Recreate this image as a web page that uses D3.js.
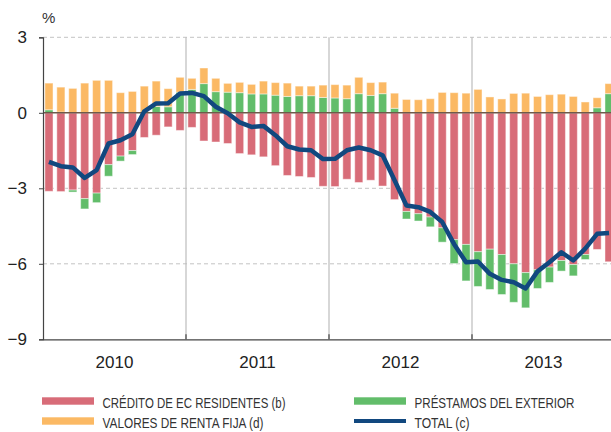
<!DOCTYPE html>
<html><head><meta charset="utf-8">
<script src="https://cdn.jsdelivr.net/npm/d3@7"></script>
<style>body{margin:0;background:#fff}svg{display:block}</style>
</head><body><svg id="c" width="611" height="432"></svg>
<script>
const years = ["2010","2011","2012","2013"];
const months = d3.range(48).map(i => years[Math.floor(i/12)] + "-" + String(i%12+1).padStart(2,"0"));
const credito = [-3.12,-3.13,-3.07,-3.41,-3.19,-2.06,-1.72,-1.50,-0.98,-0.89,-0.56,-0.70,
  -0.58,-1.12,-1.16,-1.22,-1.62,-1.67,-1.75,-2.10,-2.49,-2.53,-2.57,-2.92,
  -2.93,-2.64,-2.77,-2.68,-2.91,-3.45,-3.92,-4.01,-4.14,-4.57,-5.04,-5.23,
  -5.52,-5.42,-5.63,-6.00,-6.35,-6.24,-6.13,-5.87,-6.03,-5.63,-5.43,-5.92];
const prestamos = [0.12,0.03,-0.08,-0.41,-0.38,-0.46,-0.20,-0.16,0.02,0.25,0.24,0.82,
  0.93,1.16,0.84,0.82,0.80,0.75,0.75,0.70,0.65,0.68,0.68,0.61,
  0.59,0.56,0.76,0.69,0.76,0.18,-0.30,-0.29,-0.39,-0.57,-0.95,-1.45,
  -1.38,-1.60,-1.59,-1.53,-1.40,-0.74,-0.61,-0.42,-0.45,-0.20,0.20,0.76];
const valores = [1.06,0.99,0.97,1.18,1.29,1.29,0.80,0.85,1.04,1.01,0.72,0.59,
  0.44,0.62,0.53,0.35,0.41,0.38,0.51,0.50,0.53,0.38,0.38,0.49,
  0.53,0.54,0.65,0.51,0.46,0.60,0.53,0.52,0.56,0.81,0.80,0.78,
  0.93,0.63,0.55,0.77,0.78,0.65,0.72,0.74,0.65,0.43,0.40,0.40];
const total = [-1.95,-2.12,-2.17,-2.59,-2.28,-1.22,-1.09,-0.85,0.06,0.37,0.38,0.77,
  0.79,0.66,0.24,-0.02,-0.38,-0.56,-0.52,-0.89,-1.33,-1.46,-1.49,-1.84,
  -1.83,-1.49,-1.38,-1.49,-1.69,-2.68,-3.68,-3.75,-3.94,-4.34,-5.22,-5.94,
  -5.91,-6.40,-6.64,-6.73,-6.98,-6.30,-5.94,-5.54,-5.87,-5.40,-4.81,-4.78];
const yTicks = [3,0,-3,-6,-9];
const seriesNames = ["CRÉDITO DE EC RESIDENTES (b)","PRÉSTAMOS DEL EXTERIOR","VALORES DE RENTA FIJA (d)","TOTAL (c)"];
const colors = {red:"#d86c78", green:"#62bd6a", orange:"#fbb964", blue:"#11487f"};

const svg = d3.select("#c");
const L = 43, R = 615, T = 37.3, B = 339.3;
const x = d3.scaleBand().domain(months).range([L, R]).paddingInner(0.32).paddingOuter(0.16);
const y = d3.scaleLinear().domain([-9, 3]).range([B, T]);
const step = x.step();

// horizontal dashed grid
svg.append("g").selectAll("line").data([3,-3,-6]).join("line")
  .attr("x1", L).attr("x2", 611).attr("y1", d=>y(d)).attr("y2", d=>y(d))
  .attr("stroke","#c4c4c4").attr("stroke-width",1).attr("stroke-dasharray","4,3");
// year separators
const yearBounds = [12,24,36].map(i => x(months[i]) - x.step()*x.paddingInner()/2);
svg.append("g").selectAll("line").data(yearBounds).join("line")
  .attr("x1", d=>d).attr("x2", d=>d).attr("y1", T).attr("y2", B)
  .attr("stroke","#bdbdbd").attr("stroke-width",1.2);

// bars
const bars = [];
months.forEach((m,i) => {
  let pos = 0, neg = 0;
  const c = credito[i], p = prestamos[i], v = valores[i];
  bars.push({m, y0: 0, y1: c, col: colors.red}); neg = c;
  if (p >= 0) { bars.push({m, y0: 0, y1: p, col: colors.green}); pos = p; }
  else { bars.push({m, y0: neg, y1: neg + p, col: colors.green}); neg += p; }
  bars.push({m, y0: pos, y1: pos + v, col: colors.orange});
});
svg.append("g").selectAll("rect").data(bars).join("rect")
  .attr("x", d=>x(d.m)).attr("width", x.bandwidth())
  .attr("y", d=>y(Math.max(d.y0,d.y1))).attr("height", d=>Math.abs(y(d.y0)-y(d.y1)))
  .attr("fill", d=>d.col).attr("stroke","#fff").attr("stroke-opacity",0.45).attr("stroke-width",1);

// zero line
svg.append("line").attr("x1",L).attr("x2",611).attr("y1",y(0)).attr("y2",y(0))
  .attr("stroke","#6f5a4a").attr("stroke-width",1.5);

// total line
svg.append("path").datum(total)
  .attr("d", d3.line().x((d,i)=>x(months[i])+x.bandwidth()/2).y(d=>y(d)))
  .attr("fill","none").attr("stroke",colors.blue).attr("stroke-width",4.5).attr("stroke-linejoin","round");

const font = "Liberation Sans, Arial, sans-serif";
// axes
const yAxis = svg.append("g").attr("transform",`translate(${L},0)`)
  .call(d3.axisLeft(y).tickValues(yTicks).tickSize(4).tickPadding(12).tickFormat(d3.format("d")));
yAxis.select(".domain").attr("stroke","#444").attr("stroke-width",1.2);
yAxis.selectAll(".tick line").attr("stroke","#444");
yAxis.selectAll("text").attr("font-family",font).attr("font-size",17).attr("fill","#222");

const xAxis = svg.append("g").attr("transform",`translate(0,${B})`)
  .call(d3.axisBottom(x).tickValues([]).tickSizeOuter(0));
xAxis.select(".domain").attr("stroke","#444").attr("stroke-width",1.2);
svg.append("g").selectAll("line").data(yearBounds).join("line")
  .attr("x1",d=>d).attr("x2",d=>d).attr("y1",B-5).attr("y2",B).attr("stroke","#444").attr("stroke-width",1.2);
svg.append("g").selectAll("text").data(years).join("text")
  .attr("x",(d,i)=>x(months[i*12]) - step*x.paddingInner()/2 + step*6)
  .attr("y",368).attr("text-anchor","middle")
  .attr("font-family",font).attr("font-size",17).attr("fill","#222").text(d=>d);

svg.append("text").attr("x",42).attr("y",23).text("%")
  .attr("font-family",font).attr("font-size",15).attr("fill","#333");

// legend
const leg = [
  {name: seriesNames[0], col: colors.red, x: 42, y: 401, type:"rect", w: 183},
  {name: seriesNames[1], col: colors.green, x: 354, y: 401, type:"rect", w: 160},
  {name: seriesNames[2], col: colors.orange, x: 42, y: 421, type:"rect", w: 161},
  {name: seriesNames[3], col: colors.blue, x: 354, y: 421, type:"line", w: 55}
];
const lg = svg.append("g").selectAll("g").data(leg).join("g");
lg.append("rect").attr("x",d=>d.x).attr("width",52)
  .attr("y",d=>d.type==="rect"? d.y-3.7 : d.y-2).attr("height",d=>d.type==="rect"?7.4:4)
  .attr("fill",d=>d.col);
lg.append("text").attr("x",d=>d.x+60.5).attr("y",d=>d.y+7)
  .attr("font-family",font).attr("font-size",14)
  .attr("textLength",d=>d.w).attr("lengthAdjust","spacingAndGlyphs")
  .attr("fill","#333").text(d=>d.name);
</script></body></html>
